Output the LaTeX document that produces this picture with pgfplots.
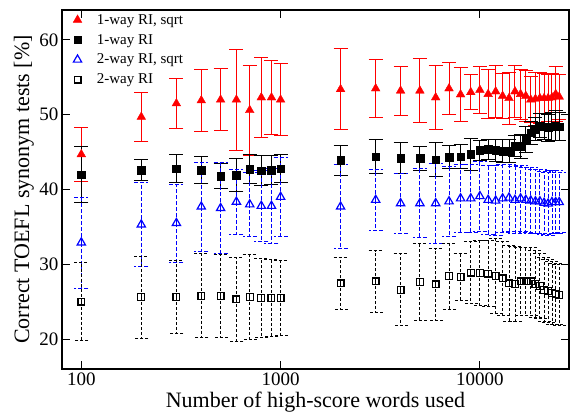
\documentclass[border=0pt]{standalone}
\usepackage{fontspec}
\setmainfont{Liberation Serif}
\usepackage{pgfplots}
\usepackage{pgfplotstable}
\pgfplotsset{compat=1.18}

% x = words used, y = mean, e = error
\pgfplotstableread{
x y e
100 44.7 3.65
200 49.7 3.3
300 51.5 3.4
400 51.9 4.2
500 52.0 4.15
600 52.0 6.75
700 50.6 6.0
800 52.3 5.3
900 52.3 5.0
1000 52.0 4.8
2000 53.4 5.4
3000 53.5 3.9
4000 53.2 3.3
5000 53.2 4.3
6000 52.3 4.25
7000 53.5 3.5
8000 52.7 3.6
9000 53.0 2.35
10000 53.3 3.15
11000 52.75 3.3
12000 53.1 3.45
13000 52.5 3.0
14000 52.2 3.45
15000 53.1 3.5
16000 52.75 3.35
17000 52.5 3.35
18000 52.0 3.1
19000 52.1 3.6
20000 52.2 3.4
21000 52.2 3.35
22000 52.2 3.15
23000 52.3 3.25
24000 52.75 3.65
25000 52.4 3.0
}\oneSqrt

\pgfplotstableread{
x y e
100 42.0 3.7
200 42.6 1.4
300 42.8 1.9
400 42.6 1.75
500 41.8 1.65
600 41.9 2.2
700 42.7 1.95
800 42.5 2.0
900 42.6 1.9
1000 42.8 1.85
2000 43.9 2.0
3000 44.4 2.3
4000 44.2 2.1
5000 44.2 1.6
6000 44.0 2.3
7000 44.35 1.5
8000 44.4 1.55
9000 44.7 2.1
10000 45.25 1.35
11000 45.4 1.35
12000 45.25 1.45
13000 45.15 1.55
14000 45.15 1.6
15000 45.8 1.45
16000 45.8 1.6
17000 46.7 1.7
18000 47.6 1.55
19000 48.1 1.5
20000 48.55 1.65
21000 48.4 1.75
22000 48.25 1.8
23000 48.4 1.9
24000 48.55 2.0
25000 48.4 1.85
}\oneRI

\pgfplotstableread{
x y e
100 32.9 6.1
200 35.3 5.6
300 35.5 5.2
400 37.7 5.95
500 37.5 6.05
600 38.35 4.3
700 38.0 4.3
800 37.8 4.7
900 37.8 5.0
1000 39.0 5.3
2000 37.7 5.6
3000 38.6 4.05
4000 38.15 4.05
5000 38.15 4.6
6000 38.15 5.3
7000 38.4 4.65
8000 38.8 4.6
9000 38.8 4.6
10000 39.1 4.7
11000 38.6 4.6
12000 38.5 4.7
13000 38.8 4.5
14000 38.9 4.5
15000 38.6 4.5
16000 38.8 4.4
17000 38.6 4.4
18000 38.5 4.4
19000 38.4 4.3
20000 38.4 4.3
21000 38.2 4.2
22000 38.1 4.2
23000 38.3 4.2
24000 38.3 4.2
25000 38.3 4.0
}\twoSqrt

\pgfplotstableread{
x y e
100 25.0 5.2
200 25.6 5.5
300 25.6 4.9
400 25.8 5.6
500 25.75 5.5
600 25.3 5.6
700 25.6 5.7
800 25.5 5.3
900 25.5 5.1
1000 25.5 5.0
2000 27.45 3.5
3000 27.7 4.1
4000 26.6 4.8
5000 27.6 5.15
6000 27.3 4.8
7000 28.4 4.4
8000 28.3 3.1
9000 28.9 4.2
10000 28.85 4.4
11000 28.75 4.4
12000 28.4 5.0
13000 28.1 5.0
14000 27.45 5.1
15000 27.4 5.0
16000 27.7 4.6
17000 27.7 4.6
18000 27.7 4.5
19000 27.4 4.5
20000 27.1 4.3
21000 26.6 4.3
22000 26.4 4.2
23000 26.2 4.2
24000 26.0 4.1
25000 25.9 4.1
}\twoRI

\begin{document}
\begin{tikzpicture}
\begin{axis}[
  name=ax,
  scale only axis,
  width=507pt, height=359pt,
  xmode=log, log basis x=10,
  xmin=80, xmax=28000, ymin=16, ymax=64,
  xtick={100,1000,10000}, xticklabels={100,1000,10000},
  ytick={20,30,40,50,60},
  tick align=inside,
  major tick length=8pt, minor tick length=5pt,
  axis line style={line width=1.5pt},
  tick style={line width=1pt, black},
  /pgf/number format/assume math mode=true,
  tick label style={font=\fontsize{19}{22}\selectfont},
  label style={font=\fontsize{22}{26}\selectfont},
  xlabel={Number of high-score words used},
  ylabel={Correct TOEFL synonym tests [\%]},
  xlabel style={inner sep=0pt, yshift=-3pt},
  ylabel style={inner sep=0pt, yshift=2pt},
  legend style={at={(0,1)}, anchor=north west, xshift=8pt, yshift=-1pt,
    draw=none, fill=none, font=\fontsize{15}{17}\selectfont,
    nodes={inner sep=1pt}, row sep=6.5pt},
  legend cell align=left,
  /tikz/every odd column/.append style={column sep=14pt},
  error bars/y dir=both, error bars/y explicit,
]
\addplot[only marks, red, mark=triangle*, mark size=5pt,
  error bars/error bar style={line width=1pt, red},
  error bars/error mark options={rotate=90, mark size=7pt, line width=1pt, red}]
  table[x=x, y=y, y error=e] {\oneSqrt};
\addplot[only marks, black, mark=square*, mark size=3.8pt,
  error bars/error bar style={line width=1pt, black},
  error bars/error mark options={rotate=90, mark size=7pt, line width=1pt, black}]
  table[x=x, y=y, y error=e] {\oneRI};
\addplot[only marks, blue, mark=triangle, mark size=4.8pt,
  mark options={fill=white, line width=1.2pt},
  error bars/error bar style={line width=0.9pt, blue, dash pattern=on 4pt off 2pt},
  error bars/error mark options={rotate=90, mark size=7pt, line width=0.9pt, blue, dash pattern=on 4pt off 2pt}]
  table[x=x, y=y, y error=e] {\twoSqrt};
\addplot[only marks, black, mark=square, mark size=3.4pt,
  mark options={fill=white, line width=1.2pt},
  error bars/error bar style={line width=0.9pt, black, dash pattern=on 3pt off 2pt},
  error bars/error mark options={rotate=90, mark size=7pt, line width=0.9pt, black, dash pattern=on 3pt off 2pt}]
  table[x=x, y=y, y error=e] {\twoRI};
\legend{1-way RI\rlap{, sqrt},1-way RI,2-way RI\rlap{, sqrt},2-way RI}
\end{axis}
\path ([shift={(-62pt,-43pt)}]ax.south west) rectangle ([shift={(3pt,10pt)}]ax.north east);
\end{tikzpicture}
\end{document}
